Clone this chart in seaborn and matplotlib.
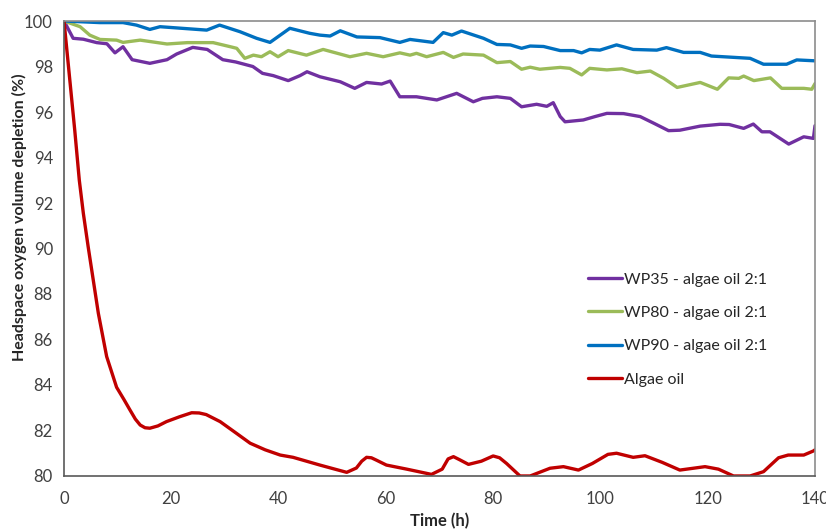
import matplotlib
matplotlib.use("Agg")
import matplotlib.pyplot as plt
import seaborn as sns
import pandas as pd

# data
t_wp35 = [0, 1.7, 3.6, 6.1, 8, 9.5, 11, 12.7, 16, 19.2, 21, 24, 26.7, 29.6, 32, 35.2, 37, 39,
          41.8, 44, 45.3, 47.7, 51.5, 54.2, 56.4, 59.2, 60.8, 62.6, 65.7, 69.5, 73.2, 76.3, 78,
          80.7, 83.2, 85.3, 88.1, 90, 91.2, 92.5, 93.4, 96.8, 99, 101.2, 104.3, 107.4, 110,
          112.7, 114.8, 118.6, 122.3, 124, 126.7, 128.5, 130.1, 131.6, 135.1, 137.9, 139.7, 140]
v_wp35 = [100, 99.24, 99.2, 99.05, 99.0, 98.6, 98.87, 98.3, 98.14, 98.3, 98.55, 98.84, 98.75,
          98.3, 98.2, 98.0, 97.7, 97.6, 97.38, 97.6, 97.77, 97.55, 97.33, 97.04, 97.3, 97.23,
          97.36, 96.67, 96.67, 96.53, 96.82, 96.45, 96.6, 96.67, 96.6, 96.23, 96.34, 96.25,
          96.41, 95.8, 95.57, 95.65, 95.8, 95.94, 95.93, 95.8, 95.5, 95.18, 95.2, 95.38, 95.46,
          95.45, 95.28, 95.47, 95.13, 95.13, 94.59, 94.91, 94.84, 95.4]

t_wp80 = [0, 3, 4.8, 6.7, 9.8, 11, 14.2, 19.2, 23, 27.8, 31, 32.2, 33.7, 35.3, 36.8, 38.4, 39.9,
          41.8, 45.2, 48.3, 53.3, 56.4, 59.5, 62.6, 64.5, 65.7, 67.6, 70.7, 72.6, 74.4, 78.2,
          80.7, 83.2, 85.3, 86.9, 88.7, 92.5, 94.3, 96.5, 98, 101.2, 104, 106.8, 109.3, 111.8,
          114.3, 118.6, 121.8, 123.9, 125.8, 126.7, 128.6, 131.7, 133.8, 137.9, 139.4, 140]
v_wp80 = [100, 99.75, 99.38, 99.19, 99.16, 99.06, 99.16, 98.99, 99.05, 99.05, 98.87, 98.8, 98.36,
          98.5, 98.43, 98.65, 98.43, 98.7, 98.5, 98.75, 98.43, 98.58, 98.43, 98.6, 98.5, 98.58,
          98.43, 98.62, 98.4, 98.55, 98.5, 98.17, 98.22, 97.88, 97.97, 97.88, 97.96, 97.92,
          97.63, 97.92, 97.85, 97.9, 97.73, 97.8, 97.48, 97.08, 97.3, 97.0, 97.5, 97.48, 97.58,
          97.38, 97.5, 97.04, 97.04, 97.0, 97.25]

t_wp90 = [0, 6.7, 11, 13.5, 16, 17.9, 26.6, 29, 32.8, 35.9, 38.4, 42.1, 45.8, 47.7, 49.6, 51.5,
          54.6, 58.9, 62.6, 64.5, 68.8, 70.7, 72.3, 74.1, 78.2, 80.7, 83.2, 85.3, 86.9, 89.4,
          92.5, 95, 96.5, 98, 99.9, 103, 106.1, 110.5, 112.3, 115.5, 118.6, 120.7, 127.9, 130.4,
          134.7, 136.6, 140]
v_wp90 = [100, 99.93, 99.93, 99.82, 99.63, 99.75, 99.6, 99.82, 99.53, 99.24, 99.06, 99.68, 99.46,
          99.38, 99.34, 99.57, 99.3, 99.27, 99.06, 99.19, 99.06, 99.49, 99.38, 99.56, 99.24,
          98.97, 98.95, 98.8, 98.9, 98.88, 98.7, 98.7, 98.6, 98.75, 98.72, 98.95, 98.75, 98.72,
          98.83, 98.62, 98.62, 98.46, 98.36, 98.1, 98.1, 98.29, 98.25]

t_algae = [0, 0.5, 1, 2, 2.85, 3.6, 4.5, 5.46, 6.4, 7.95, 9.8, 11.2, 12.3, 13.3, 14.2, 15.1, 16,
           17.5, 19.1, 21.5, 23.8, 25.2, 26.5, 29.1, 32, 34.7, 37.5, 40.3, 42.7, 47.7, 50.5,
           52.7, 54.5, 55.5, 56.4, 57.3, 58.2, 60.1, 63.9, 68.5, 70.5, 71.6, 72.6, 73.7, 75.4,
           77.8, 80, 81.2, 82.5, 85, 86.9, 90.6, 93.1, 95.9, 98.5, 101.4, 103, 106.1, 108.3,
           111.5, 114.8, 119.5, 122, 124.8, 127.9, 130.4, 133.2, 135, 137.9, 139.7, 140]
v_algae = [100, 98.8, 97.6, 95.2, 93.0, 91.55, 90.08, 88.6, 87.15, 85.25, 83.9, 83.35, 82.9,
           82.5, 82.24, 82.12, 82.1, 82.2, 82.39, 82.6, 82.78, 82.77, 82.7, 82.39, 81.9, 81.44,
           81.15, 80.92, 80.82, 80.48, 80.3, 80.16, 80.35, 80.65, 80.82, 80.8, 80.7, 80.48,
           80.3, 80.07, 80.3, 80.75, 80.85, 80.72, 80.51, 80.65, 80.88, 80.8, 80.55, 80.0, 80.0,
           80.34, 80.41, 80.26, 80.55, 80.95, 81.0, 80.82, 80.89, 80.6, 80.26, 80.41, 80.3,
           80.0, 80.0, 80.19, 80.8, 80.92, 80.92, 81.1, 81.15]

labels = ["WP35 - algae oil 2:1", "WP80 - algae oil 2:1", "WP90 - algae oil 2:1", "Algae oil"]
colors = ["#7030A0", "#9BBB59", "#0070C0", "#C00000"]

frames = []
for lab, t, v in zip(labels, [t_wp35, t_wp80, t_wp90, t_algae],
                     [v_wp35, v_wp80, v_wp90, v_algae]):
    frames.append(pd.DataFrame({"time": t, "value": v, "sample": lab}))
df = pd.concat(frames, ignore_index=True)

sns.set_style("white")
plt.rcParams["font.family"] = ["Lato", "DejaVu Sans"]

fig = plt.figure(figsize=(8.26, 5.32), dpi=100)
ax = fig.add_axes([0.0775, 0.1053, 0.9092, 0.8552])

sns.lineplot(data=df, x="time", y="value", hue="sample", hue_order=labels,
             palette=dict(zip(labels, colors)), linewidth=2.4, ax=ax, estimator=None)

ax.set_xlim(0, 140)
ax.set_ylim(80, 100)
ax.set_xticks(range(0, 141, 20))
ax.set_yticks(range(80, 101, 2))
ax.tick_params(direction="in", length=4, width=1, colors="#595959", labelcolor="#404040",
               labelsize=12)
ax.tick_params(axis="x", pad=11)
ax.tick_params(axis="y", pad=8)
for side in ["left", "bottom"]:
    ax.spines[side].set_color("#595959")
    ax.spines[side].set_linewidth(1.2)
for side in ["top", "right"]:
    ax.spines[side].set_color("#8c8c8c")
    ax.spines[side].set_linewidth(1.2)

ax.set_xlabel("Time (h)", fontsize=12, fontweight="bold", labelpad=4)
ax.set_ylabel("Headspace oxygen volume depletion (%)", fontsize=11.5, fontweight="bold")
ax.yaxis.set_label_coords(-0.049, 0.569)

ax.legend(loc="upper left", bbox_to_anchor=(0.679, 0.479), frameon=False, fontsize=11.5,
          handlelength=2.1, handletextpad=0.15, labelspacing=1.2)

fig.savefig("out.png", dpi=100)
